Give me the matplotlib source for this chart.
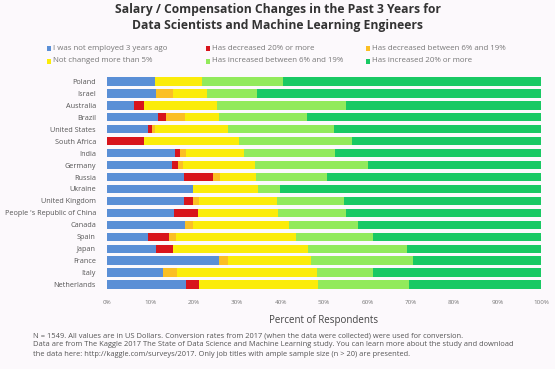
import matplotlib
matplotlib.use("Agg")
import matplotlib.pyplot as plt
from matplotlib.patches import Rectangle

plt.rcParams['font.family'] = ['Open Sans', 'DejaVu Sans']

countries = ["Poland", "Israel", "Australia", "Brazil", "United States", "South Africa",
             "India", "Germany", "Russia", "Ukraine", "United Kingdom",
             "People 's Republic of China", "Canada", "Spain", "Japan", "France",
             "Italy", "Netherlands"]

not_employed = [11.0, 11.3, 6.3, 11.8, 9.5, 0.0, 15.7, 14.9, 17.8, 19.9, 17.7, 15.5, 18.0, 9.5, 11.3, 25.9, 12.8, 18.1]
dec_20 =       [0.0, 0.0, 2.2, 1.9, 0.9, 8.6, 1.1, 1.5, 6.7, 0.0, 2.2, 5.4, 0.0, 4.9, 4.0, 0.0, 0.0, 3.1]
dec_6_19 =     [0.0, 4.0, 0.0, 4.3, 0.7, 0.0, 1.4, 1.2, 1.5, 0.0, 1.4, 0.0, 1.9, 1.5, 0.0, 2.0, 3.4, 0.0]
no_change =    [11.0, 7.7, 16.9, 7.9, 16.7, 21.9, 13.4, 16.6, 8.3, 15.0, 17.9, 18.4, 22.0, 27.6, 30.9, 19.1, 32.1, 27.5]
inc_6_19 =     [18.5, 11.5, 29.7, 20.1, 24.6, 25.9, 21.0, 26.0, 16.3, 5.0, 15.4, 15.8, 15.9, 17.7, 22.9, 23.4, 12.9, 20.9]
inc_20 =       [59.5, 65.5, 44.9, 54.0, 47.6, 43.6, 47.4, 39.8, 49.4, 60.1, 45.4, 44.9, 42.2, 38.8, 30.9, 29.6, 38.8, 30.4]

series_names = ["I was not employed 3 years ago", "Has decreased 20% or more",
                "Has decreased between 6% and 19%", "Not changed more than 5%",
                "Has increased between 6% and 19%", "Has increased 20% or more"]
series_values = [not_employed, dec_20, dec_6_19, no_change, inc_6_19, inc_20]
colors = ["#5a8fd6", "#d8141c", "#fbbf24", "#fbec0a", "#92ea5c", "#19c964"]

x_ticks = [0, 10, 20, 30, 40, 50, 60, 70, 80, 90, 100]
x_tick_labels = [f"{v}%" for v in x_ticks]

bg = "#fcf9fc"
fig = plt.figure(figsize=(5.55, 3.69), dpi=100, facecolor=bg)
ax = fig.add_axes([107/555, 1-290.7/369, (541-107)/555, (290.7-75.3)/369])
ax.set_facecolor(bg)

ypos = list(range(len(countries)))
left = [0.0]*len(countries)
for name, vals, col in zip(series_names, series_values, colors):
    ax.barh(ypos, vals, left=left, height=0.72, color=col, edgecolor='none', label=name)
    left = [l+v for l, v in zip(left, vals)]

ax.set_ylim(len(countries)-0.5, -0.5)
ax.set_xlim(0, 100)
ax.set_yticks(ypos)
ax.set_yticklabels(countries, fontsize=5.2, color="#555555")
ax.set_xticks(x_ticks)
ax.set_xticklabels(x_tick_labels, fontsize=4.5, color="#777777")
ax.tick_params(axis='both', length=0)
ax.tick_params(axis='y', pad=8)
ax.tick_params(axis='x', pad=7)
for s in ax.spines.values():
    s.set_visible(False)

ax.set_xlabel("Percent of Respondents", fontsize=7, color="#444444", labelpad=7)

fig.text(278/555, 1-9/369, "Salary / Compensation Changes in the Past 3 Years for",
         ha='center', va='center', fontsize=8.7, fontweight='bold', color="#333333")
fig.text(278/555, 1-25/369, "Data Scientists and Machine Learning Engineers",
         ha='center', va='center', fontsize=8.7, fontweight='bold', color="#333333")

# legend (manual layout: 3 columns x 2 rows)
col_x = [47, 206, 366]
row_y = [48, 61]
for i in range(len(series_names)):
    r, c = divmod(i, 3)
    x = col_x[c]; y = row_y[r]
    fig.patches.append(Rectangle((x/555, 1-(y+2.5)/369), 4/555, 5/369,
                                 transform=fig.transFigure, facecolor=colors[i],
                                 edgecolor='none'))
    fig.text((x+6)/555, 1-y/369, series_names[i], ha='left', va='center',
             fontsize=5.7, color="#777777")

notes = ["N = 1549. All values are in US Dollars. Conversion rates from 2017 (when the data were collected) were used for conversion.",
         "Data are from The Kaggle 2017 The State of Data Science and Machine Learning study. You can learn more about the study and download",
         "the data here: http://kaggle.com/surveys/2017. Only job titles with ample sample size (n > 20) are presented."]
for i, t in enumerate(notes):
    fig.text(33/555, 1-(336+9*i)/369, t, ha='left', va='center', fontsize=5.4, color="#555555")

fig.savefig("out.png", dpi=100, facecolor=bg)
